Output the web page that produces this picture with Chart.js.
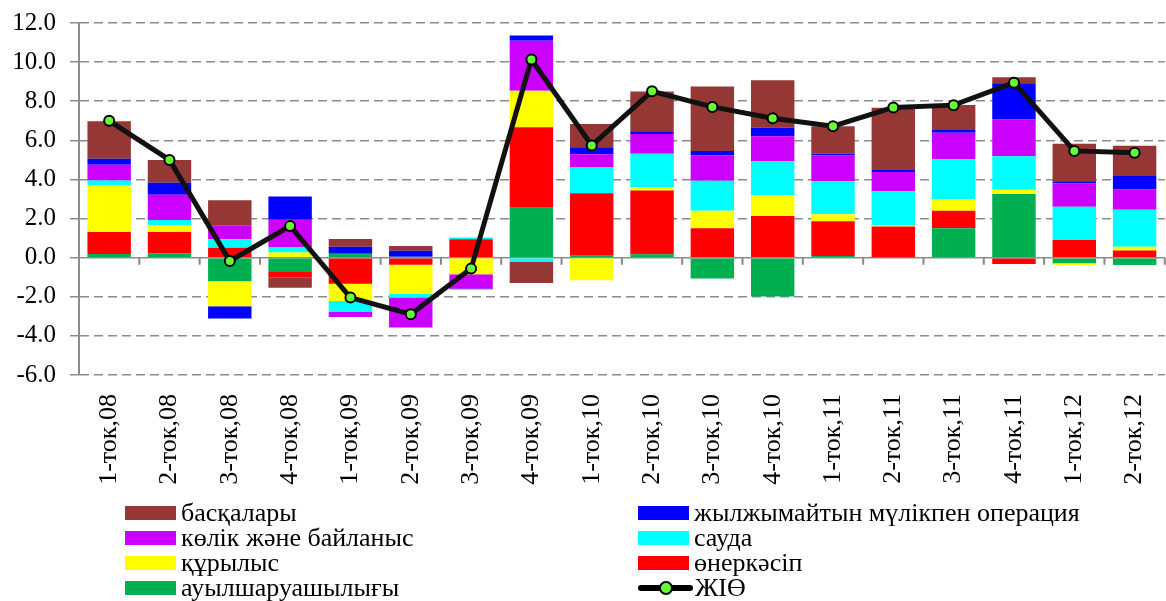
<!DOCTYPE html>
<html>
<head>
<meta charset="utf-8">
<script src="https://cdn.jsdelivr.net/npm/chart.js@4"></script>
<style>
  html, body { margin: 0; padding: 0; background: #fff; overflow: hidden; }
  #wrap { position: relative; width: 1177px; height: 601px; }
  #legend { position: absolute; left: 125px; top: 500px; display: grid;
            grid-template-columns: 513px 480px; grid-auto-rows: 25px;
            font-family: 'Liberation Serif', 'Times New Roman', serif; font-size: 26px; color: #000; }
  .item { display: flex; align-items: center; white-space: nowrap; line-height: 25px; height: 25px; }
  .box { width: 51px; height: 14px; margin-right: 5px; flex: none; }
  .ln { position: relative; width: 55px; height: 14px; margin-right: 2px; flex: none; }
  .ln::before { content: ''; position: absolute; left: 0; right: 0; top: 4px; height: 6px; background: #000; border-radius: 3px; }
  .ln i { position: absolute; left: 21px; top: 0; width: 10px; height: 10px; border-radius: 50%;
          background: #66ff33; border: 2px solid #000; }
</style>
</head>
<body>
<div id="wrap">
  <canvas id="myChart"></canvas>
  <div id="legend"></div>
</div>
<script>
const kategoriyalar = ['1-ток,08','2-ток,08','3-ток,08','4-ток,08','1-ток,09','2-ток,09','3-ток,09','4-ток,09',
  '1-ток,10','2-ток,10','3-ток,10','4-ток,10','1-ток,11','2-ток,11','3-ток,11','4-ток,11','1-ток,12','2-ток,12'];

const auylsharuashylygy = [0.19, 0.22, -1.21, -0.73, 0.20, 0.05, 0, 2.55, 0.10, 0.17, -1.07, -1.99, 0.09, 0.02, 1.51, 3.25, -0.29, -0.37];
const onerkasip = [1.12, 1.09, 0.51, -0.27, -1.33, -0.36, 0.94, 4.12, 3.20, 3.27, 1.51, 2.13, 1.77, 1.57, 0.89, -0.32, 0.90, 0.37];
const qurylys = [2.38, 0.36, -1.28, 0.27, -0.89, -1.48, -0.85, 1.87, -1.16, 0.17, 0.89, 1.06, 0.36, 0.05, 0.60, 0.22, -0.09, 0.19];
const sauda = [0.26, 0.25, 0.43, 0.27, -0.56, -0.20, 0.09, -0.22, 1.31, 1.70, 1.53, 1.74, 1.69, 1.75, 2.03, 1.72, 1.70, 1.89];
const kolik = [0.80, 1.30, 0.69, 1.40, -0.26, -1.53, -0.73, 2.55, 0.68, 1.02, 1.29, 1.28, 1.33, 0.99, 1.36, 1.87, 1.19, 1.04];
const zhylzhymaityn = [0.31, 0.61, -0.62, 1.19, 0.36, 0.31, -0.03, 0.27, 0.36, 0.14, 0.24, 0.43, 0.07, 0.10, 0.14, 1.86, 0.12, 0.68];
const baskalary = [1.92, 1.16, 1.30, -0.54, 0.39, 0.24, 0, -1.07, 1.19, 2.03, 3.29, 2.43, 1.41, 3.18, 1.28, 0.31, 1.91, 1.55];
const zhio = [7.0, 5.0, -0.17, 1.62, -2.04, -2.89, -0.56, 10.13, 5.74, 8.51, 7.71, 7.13, 6.72, 7.68, 7.80, 8.95, 5.46, 5.36];

const shrift = "'Liberation Serif', 'Times New Roman', serif";

function bagan(label, data, color) {
  return { type: 'bar', label: label, data: data, backgroundColor: color, stack: 's', order: 1,
           barPercentage: 0.72, categoryPercentage: 1 };
}

// nol syzygy astyndagy kishkentai belgiler
const nolBelgiler = {
  id: 'nolBelgiler',
  beforeDatasetsDraw(chart) {
    const x = chart.scales.x, y = chart.scales.y, ctx = chart.ctx;
    const y0 = y.getPixelForValue(0);
    ctx.save();
    ctx.strokeStyle = '#888';
    ctx.lineWidth = 2;
    ctx.beginPath();
    for (let i = 0; i < kategoriyalar.length; i++) {
      const xb = (x.getPixelForValue(i) + x.getPixelForValue(i + 1)) / 2;
      ctx.moveTo(xb, y0);
      ctx.lineTo(xb, y0 + 7);
    }
    ctx.stroke();
    ctx.restore();
  }
};

var ctx = document.getElementById('myChart').getContext('2d');
var myChart = new Chart(ctx, {
  data: {
    labels: kategoriyalar,
    datasets: [
      bagan('ауылшаруашылығы', auylsharuashylygy, '#00b050'),
      bagan('өнеркәсіп', onerkasip, '#ff0000'),
      bagan('құрылыс', qurylys, '#ffff00'),
      bagan('сауда', sauda, '#00ffff'),
      bagan('көлік және байланыс', kolik, '#cc00ff'),
      bagan('жылжымайтын мүлікпен операция', zhylzhymaityn, '#0000ff'),
      bagan('басқалары', baskalary, '#953735'),
      {
        type: 'line', label: 'ЖІӨ', data: zhio, stack: 'g', order: 0,
        borderColor: '#111', borderWidth: 5,
        pointRadius: 5, pointBorderWidth: 2, pointBorderColor: '#000', pointBackgroundColor: '#66ff33'
      }
    ]
  },
  options: {
    responsive: true,
    maintainAspectRatio: false,
    animation: false,
    layout: { padding: { top: 23, left: 0, right: 0, bottom: 0 } },
    plugins: {
      legend: { display: false },
      tooltip: { enabled: false }
    },
    scales: {
      x: {
        stacked: true,
        grid: { display: false },
        border: { display: false },
        ticks: { minRotation: 90, maxRotation: 90, padding: 11, color: '#000', font: { family: shrift, size: 26 } },
        afterFit: s => { s.height = 226; }
      },
      y: {
        stacked: true,
        min: -6, max: 12,
        ticks: { stepSize: 2, padding: 14, color: '#000', font: { family: shrift, size: 25 },
                 callback: v => v.toFixed(1) },
        grid: { color: '#8c8c8c', lineWidth: 1.5, tickLength: 9, tickColor: '#8c8c8c', tickBorderDash: [] },
        border: { display: true, color: '#8c8c8c', width: 2,
                  dash: c => (c.tick && c.tick.value === 0) ? [] : [9, 5] },
        afterFit: s => { s.width = 79; s.paddingTop = 0; s.paddingBottom = 0; }
      }
    }
  },
  plugins: [nolBelgiler]
});

// legenda
const leg = document.getElementById('legend');
const ds = myChart.data.datasets;
const tartip = [6, 5, 4, 3, 2, 1, 0, 7];
tartip.forEach(i => {
  const d = ds[i];
  const el = document.createElement('div');
  el.className = 'item';
  const m = document.createElement('span');
  if (d.type === 'line') { m.className = 'ln'; m.innerHTML = '<i></i>'; }
  else { m.className = 'box'; m.style.background = d.backgroundColor; }
  el.appendChild(m);
  el.appendChild(document.createTextNode(d.label));
  leg.appendChild(el);
});
</script>
</body>
</html>
